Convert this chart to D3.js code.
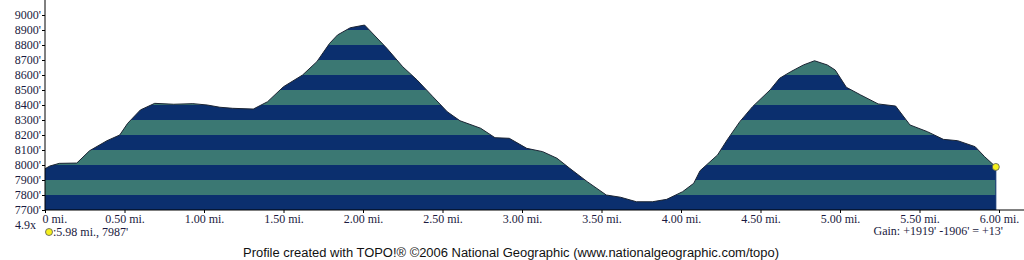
<!DOCTYPE html>
<html><head><meta charset="utf-8">
<script src="https://cdn.jsdelivr.net/npm/d3@7"></script>
<style>
html,body{margin:0;padding:0;background:#fff;}
svg{display:block;}
</style></head>
<body>
<svg id="c" width="1024" height="260"></svg>
<script>
// distance along route (miles)
const miles = [0.00,0.03,0.09,0.20,0.28,0.39,0.47,0.52,0.60,0.69,0.81,0.93,1.02,1.10,1.18,1.31,1.40,1.50,1.62,1.71,1.79,1.84,1.92,2.01,2.04,2.15,2.25,2.34,2.44,2.53,2.61,2.74,2.83,2.92,3.03,3.13,3.22,3.30,3.41,3.53,3.62,3.72,3.82,3.91,4.01,4.08,4.12,4.23,4.29,4.37,4.45,4.56,4.62,4.69,4.77,4.84,4.92,4.97,5.04,5.13,5.24,5.35,5.44,5.55,5.65,5.74,5.85,5.91,5.98];
// elevation (feet)
const elev = [7975,7993,8011,8013,8095,8162,8200,8278,8367,8411,8405,8409,8400,8385,8378,8373,8422,8522,8600,8689,8811,8867,8915,8933,8900,8778,8655,8567,8455,8355,8295,8245,8182,8178,8111,8089,8045,7978,7889,7800,7785,7755,7755,7771,7822,7878,7962,8067,8167,8289,8389,8500,8578,8622,8667,8695,8667,8633,8518,8467,8407,8393,8267,8222,8171,8162,8122,8055,7987];
const yTicks = [7700,7800,7900,8000,8100,8200,8300,8400,8500,8600,8700,8800,8900,9000];
const xTicks = [0,0.5,1,1.5,2,2.5,3,3.5,4,4.5,5,5.5,6];
const xTickLabels = ["0 mi.","0.50 mi.","1.00 mi.","1.50 mi.","2.00 mi.","2.50 mi.","3.00 mi.","3.50 mi.","4.00 mi.","4.50 mi.","5.00 mi.","5.50 mi.","6.00 mi."];
const bandColors = ["#0b2f6e","#3b7873"];
const marker = {mi:5.98, ft:7987, label:":5.98 mi., 7987'"};
const gainText = "Gain: +1919' -1906' = +13'";
const scaleText = "4.9x";
const footer = "Profile created with TOPO!® ©2006 National Geographic (www.nationalgeographic.com/topo)";

const svg = d3.select("#c");
const x = d3.scaleLinear().domain([0,6]).range([45,999]);
const y = d3.scaleLinear().domain([7700,9000]).range([210,15]);
const data = miles.map((m,i)=>({m, e:elev[i]}));

const area = d3.area().x(d=>x(d.m)).y0(y(7700)).y1(d=>y(d.e));
const line = d3.line().x(d=>x(d.m)).y(d=>y(d.e));

svg.append("clipPath").attr("id","prof").append("path").attr("d", area(data));

const bands = d3.range(7700, 9000, 100);
svg.append("g").attr("clip-path","url(#prof)")
  .selectAll("rect").data(bands).join("rect")
  .attr("x", x(0)).attr("width", x(6)-x(0))
  .attr("y", d=>y(d+100)).attr("height", d=>y(d)-y(d+100))
  .attr("fill", (d,i)=>bandColors[i%2]);

svg.append("path").attr("d", line(data)).attr("fill","none")
  .attr("stroke","#1b2433").attr("stroke-width",1);
// right edge
svg.append("line").attr("x1",x(5.98)).attr("x2",x(5.98)).attr("y1",y(7987)).attr("y2",y(7700))
  .attr("stroke","#0b2f6e");

// axes
const yAxis = d3.axisLeft(y).tickValues(yTicks).tickSize(3).tickFormat(d=>d+"'");
const gy = svg.append("g").attr("transform","translate(45,0)").call(yAxis);
gy.select(".domain").attr("d","M0,0V210").attr("stroke","#000");
gy.selectAll(".tick line").attr("stroke","#000");
gy.selectAll("text").attr("font-family","'Liberation Serif',serif").attr("font-size",12)
  .attr("fill","#1a1a40").attr("x",-4);

const xAxis = d3.axisBottom(x).tickValues(xTicks).tickSize(3).tickFormat((d,i)=>xTickLabels[i]);
const gx = svg.append("g").attr("transform","translate(0,210)").call(xAxis);
gx.select(".domain").attr("d","M45,0H1024").attr("stroke","#000");
gx.selectAll(".tick line").attr("stroke","#000");
gx.selectAll("text").attr("font-family","'Liberation Serif',serif").attr("font-size",12)
  .attr("fill","#1a1a40").attr("dy","0.55em");
gx.selectAll(".tick").filter(d=>d===0).select("text").attr("text-anchor","start").attr("x",-3);

// marker
svg.append("circle").attr("cx",x(marker.mi)).attr("cy",y(marker.ft)).attr("r",3.5)
  .attr("fill","#f5f01e").attr("stroke","#555").attr("stroke-width",0.8);
svg.append("circle").attr("cx",49).attr("cy",232).attr("r",3.5)
  .attr("fill","#f5f01e").attr("stroke","#555").attr("stroke-width",0.8);
svg.append("text").attr("x",53).attr("y",236).text(marker.label)
  .attr("font-family","'Liberation Serif',serif").attr("font-size",12).attr("fill","#1a1a40");
svg.append("text").attr("x",15).attr("y",229).text(scaleText)
  .attr("font-family","'Liberation Serif',serif").attr("font-size",12).attr("fill","#1a1a40");
svg.append("text").attr("x",1003).attr("y",235).attr("text-anchor","end").text(gainText)
  .attr("font-family","'Liberation Serif',serif").attr("font-size",12).attr("fill","#1a1a40");
svg.append("text").attr("x",243).attr("y",257).text(footer)
  .attr("font-family","'Liberation Sans',Arial,sans-serif").attr("font-size",12.5)
  .attr("textLength",536).attr("lengthAdjust","spacingAndGlyphs").attr("fill","#111");
</script>
</body></html>
